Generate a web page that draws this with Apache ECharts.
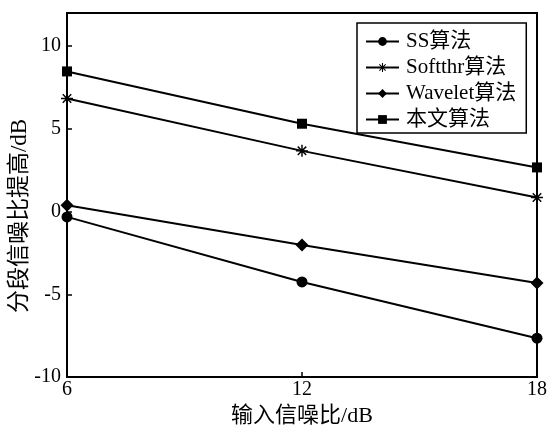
<!DOCTYPE html>
<html>
<head>
<meta charset="utf-8">
<script src="https://cdn.jsdelivr.net/npm/echarts@6/dist/echarts.min.js"></script>
<style>
html,body{margin:0;padding:0;background:#fff;}
#chart{width:550px;height:432px;}
</style>
</head>
<body>
<div id="chart"></div>
<script>
const xValues = [6, 12, 18];
const seriesNames = ['SS算法', 'Softthr算法', 'Wavelet算法', '本文算法'];
const ssValues = [-0.32, -4.25, -7.65];
const softthrValues = [6.83, 3.67, 0.85];
const waveletValues = [0.38, -2.02, -4.31];
const oursValues = [8.47, 5.31, 2.67];
const xTicks = [6, 12, 18];
const yTicks = [-10, -5, 0, 5, 10];
const xAxisName = '输入信噪比/dB';
const yAxisName = '分段信噪比提高/dB';

const FONT = '"Liberation Serif", "Noto Sans CJK SC", serif';
const starPath = 'path://M-1.2,-10 L1.2,-10 L1.2,10 L-1.2,10 Z M-10,-1.2 L10,-1.2 L10,1.2 L-10,1.2 Z M-7.9,-6.2 L-6.2,-7.9 L7.9,6.2 L6.2,7.9 Z M6.2,-7.9 L7.9,-6.2 L-6.2,7.9 L-7.9,6.2 Z';

function pts(vals){ return xValues.map((x,i)=>[x, vals[i]]); }

const symbolDefs = [
  {symbol:'circle', size:11},
  {symbol:starPath, size:12},
  {symbol:'diamond', size:13},
  {symbol:'rect', size:10}
];
const allVals = [ssValues, softthrValues, waveletValues, oursValues];

const chart = echarts.init(document.getElementById('chart'), null, {renderer:'canvas'});
chart.setOption({
  animation:false,
  backgroundColor:'#fff',
  grid:{left:67, right:12, top:13, bottom:46, show:true, borderColor:'#000', borderWidth:2, backgroundColor:'transparent'},
  legend:{
    orient:'vertical', left:357, top:23,
    padding:[8,10,3,8], itemGap:5, itemWidth:33, itemHeight:11,
    backgroundColor:'#fff', borderColor:'#000', borderWidth:1.5,
    textStyle:{fontFamily:FONT, fontSize:21, color:'#000', padding:[0,0,0,2]},
    data:seriesNames
  },
  graphic:[{
    type:'text', x:20, y:216, rotation:Math.PI/2,
    style:{text:yAxisName, fill:'#000', font:'23px ' + FONT, textAlign:'center', textVerticalAlign:'middle'}
  }],
  xAxis:{
    type:'value', min:6, max:18, interval:6,
    axisLine:{show:true, onZero:false, lineStyle:{color:'#000', width:2}},
    axisTick:{show:true, inside:true, length:5, lineStyle:{color:'#000', width:1.5}},
    axisLabel:{color:'#000', fontFamily:FONT, fontSize:20, margin:3,
      formatter:v=> xTicks.includes(v) ? String(v) : ''},
    splitLine:{show:false},
    name:xAxisName, nameLocation:'middle', nameGap:22,
    nameTextStyle:{color:'#000', fontFamily:FONT, fontSize:22}
  },
  yAxis:{
    type:'value', min:-10, max:12, interval:5,
    axisLine:{show:true, onZero:false, lineStyle:{color:'#000', width:2}},
    axisTick:{show:true, inside:true, length:5, lineStyle:{color:'#000', width:1.5}},
    axisLabel:{color:'#000', fontFamily:FONT, fontSize:20, margin:6,
      formatter:v=> yTicks.includes(v) ? String(v) : ''},
    splitLine:{show:false}
  },
  series: seriesNames.map((n,i)=>({
    name:n, type:'line', data:pts(allVals[i]),
    symbol:symbolDefs[i].symbol, symbolSize:symbolDefs[i].size,
    showAllSymbol:true, clip:false,
    lineStyle:{color:'#000', width:2},
    itemStyle:{color:'#000', borderColor:'#000', borderWidth:0}
  }))
});
</script>
</body>
</html>
